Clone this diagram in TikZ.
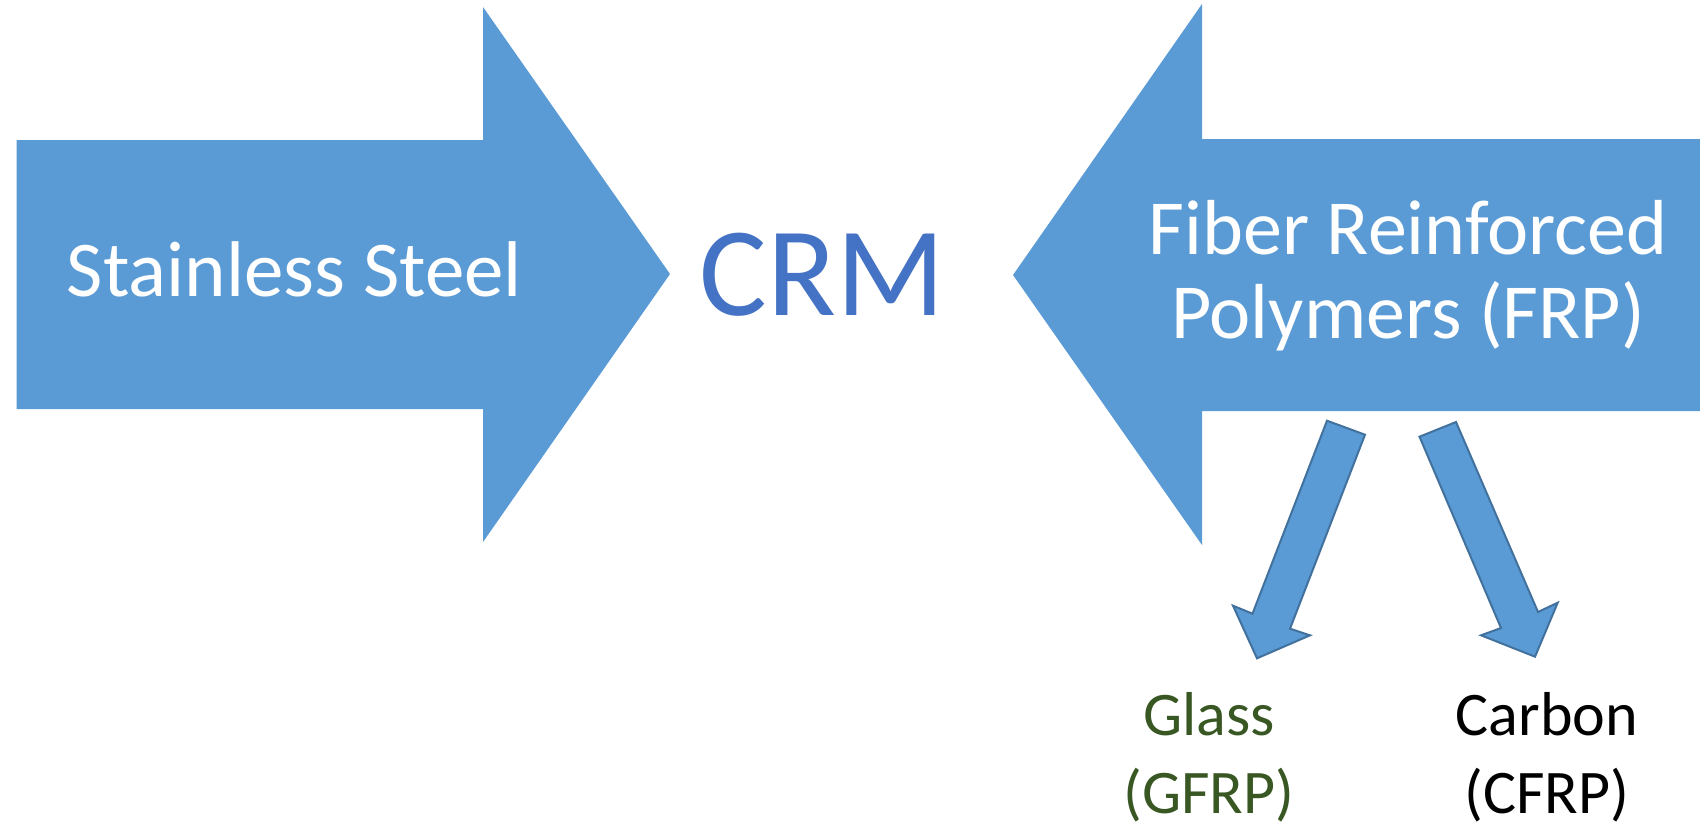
\documentclass[tikz,border=0pt]{standalone}
\usepackage{fontspec}
\setmainfont{Carlito}
\definecolor{arrowblue}{HTML}{5B9BD5}
\definecolor{arrowedge}{HTML}{41719C}
\definecolor{crmblue}{HTML}{4472C4}
\definecolor{glassgreen}{HTML}{385723}
\tikzset{
  bigarrow/.style={fill=arrowblue, draw=none},
  smallarrow/.style={fill=arrowblue, draw=arrowedge, line width=2pt, line join=miter},
  whitetext/.style={text=white, inner sep=0pt, anchor=base, align=center},
  labeltext/.style={inner sep=0pt, anchor=base, align=center, font=\fontsize{62}{78}\selectfont},
}
\begin{document}
\begin{tikzpicture}[x=1pt,y=-1pt]
\useasboundingbox (0,0) rectangle (1700,822);
% big right-pointing arrow (Stainless Steel)
\path[bigarrow] (16.5,140) -- (483,140) -- (483,7) -- (670,274) -- (483,542) -- (483,409) -- (16.5,409) -- cycle;
% big left-pointing arrow (FRP)
\path[bigarrow] (1705,139) -- (1202,139) -- (1202,4) -- (1013,275) -- (1202,545) -- (1202,411) -- (1705,411) -- cycle;
% small arrows
\draw[smallarrow] (1327,420.7) -- (1365,434.7) -- (1290,628.7) -- (1310,635.3) -- (1257,658.3) -- (1233,605.7) -- (1252.5,613.7) -- cycle;
\draw[smallarrow] (1456,422) -- (1538,612) -- (1557.7,602.7) -- (1535,656.7) -- (1481,635.3) -- (1501,628) -- (1419.5,436.7) -- cycle;
% texts (multi-line nodes: base anchor = baseline of last line)
\node[whitetext, font=\fontsize{79}{95}\selectfont] (ss) at (294.5,296) {Stainless Steel};
\node[inner sep=0pt, anchor=base, text=crmblue, font=\fontsize{127}{150}\selectfont] (crm) at (822,315) {CRM};
\node[whitetext, font=\fontsize{78}{84}\selectfont] (frp) at (1408,338) {Fiber Reinforced\\Polymers (FRP)};
\node[labeltext, text=glassgreen] (glass) at (1209,813) {Glass\\(GFRP)};
\node[labeltext, text=black] (carbon) at (1547,813) {Carbon\\(CFRP)};
\end{tikzpicture}
\end{document}
